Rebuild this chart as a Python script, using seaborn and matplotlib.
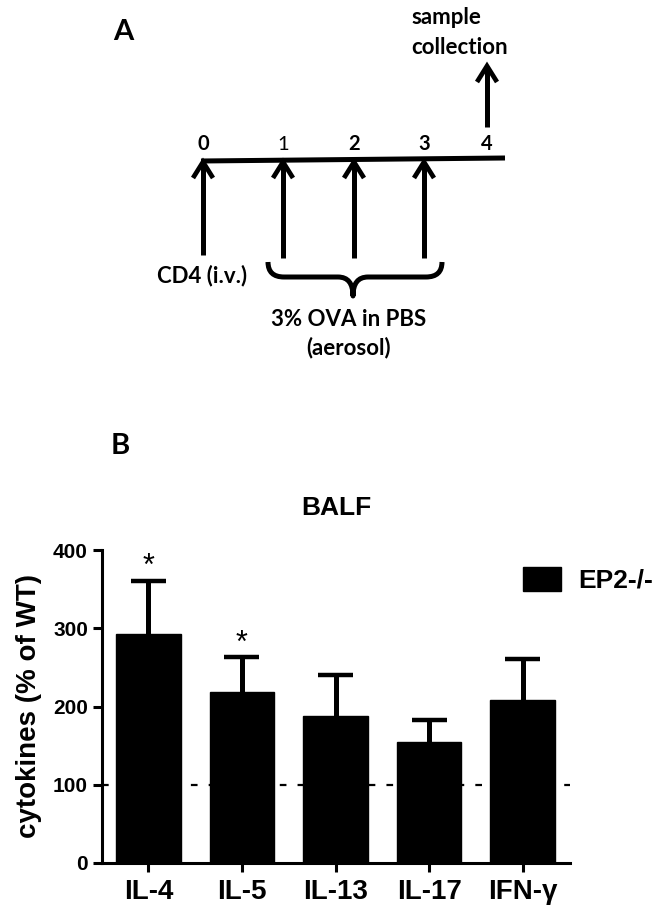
import numpy as np
import pandas as pd
import matplotlib
matplotlib.use("Agg")
import matplotlib.pyplot as plt
import seaborn as sns
from matplotlib.patches import Patch, PathPatch
from matplotlib.path import Path

# ---------------- data ----------------
cytokines = ["IL-4", "IL-5", "IL-13", "IL-17", "IFN-γ"]
pct_of_wt = [292.5, 218.5, 188.0, 154.5, 208.5]
err_upper = [68.0, 44.5, 52.0, 28.2, 52.2]
star_text = ["*", "*", "", "", ""]
star_pos = [391, 293, 0, 0, 0]
yticks = [0, 100, 200, 300, 400]
wt_level = 100
legend_label = "EP2-/-"
title_text = "BALF"
ylabel_text = "cytokines (% of WT)"

days = [0, 1, 2, 3, 4]
day_bold = [True, False, True, True, True]
stim_days = [0, 1, 2, 3]

# ---------------- style ----------------
sns.set_style("ticks")
plt.rcParams["font.family"] = ["Liberation Sans", "DejaVu Sans"]
plt.rcParams["font.weight"] = "bold"
for key in ["text.color", "axes.labelcolor", "xtick.color", "ytick.color",
            "axes.edgecolor"]:
    plt.rcParams[key] = "black"

fig = plt.figure(figsize=(6.72, 9.16), dpi=100)

# ---------------- panel A (schematic, pixel coordinates) ----------------
axa = fig.add_axes([0, 0, 1, 1])
axa.set_xlim(0, 672)
axa.set_ylim(916, 0)
axa.axis("off")
axa.patch.set_visible(False)

day_x = [203, 283, 354, 424, 487]
sfont = dict(family=["Lato", "DejaVu Sans"], color="black")

# timeline
axa.plot([201, 505], [161, 158], color="black", lw=3.6, solid_capstyle="butt")

for d, bold in zip(days, day_bold):
    axa.text(day_x[d], 144, str(d), ha="center", va="center", fontsize=14.5,
             fontweight="bold" if bold else "normal", **sfont)


def up_arrow(x, y_tip, y_tail):
    axa.plot([x, x], [y_tip + 2, y_tail], color="black", lw=3.6,
             solid_capstyle="butt")
    axa.plot([x - 10, x, x + 10], [y_tip + 16, y_tip, y_tip + 16],
             color="black", lw=3.4, solid_joinstyle="miter",
             solid_capstyle="butt")


for d in stim_days:
    up_arrow(day_x[d], 162, 255 if d == 0 else 258)
up_arrow(day_x[4], 66, 127)

# curly brace
verts = [(268, 262), (268, 277), (284, 277), (338, 277), (353, 277), (353, 296),
         (353, 277), (368, 277), (426, 277), (442, 277), (442, 262)]
codes = [Path.MOVETO, Path.CURVE3, Path.CURVE3, Path.LINETO, Path.CURVE3,
         Path.CURVE3, Path.CURVE3, Path.CURVE3, Path.LINETO, Path.CURVE3,
         Path.CURVE3]
axa.add_patch(PathPatch(Path(verts, codes), fill=False, lw=3.6,
                        edgecolor="black", joinstyle="round"))

axa.text(202, 276, "CD4 (i.v.)", ha="center", va="center", fontsize=16,
         fontweight="bold", **sfont)
axa.text(349, 320, "3% OVA in PBS", ha="center", va="center", fontsize=16,
         fontweight="bold", **sfont)
axa.text(349, 348, "(aerosol)", ha="center", va="center", fontsize=16,
         fontweight="bold", **sfont)
axa.text(411, 24, "sample", ha="left", va="baseline", fontsize=16,
         fontweight="bold", **sfont)
axa.text(411, 54, "collection", ha="left", va="baseline", fontsize=16,
         fontweight="bold", **sfont)

axa.text(123, 32, "A", ha="center", va="center", fontsize=21,
         fontweight="bold", **sfont)
axa.text(120, 446, "B", ha="center", va="center", fontsize=21,
         fontweight="bold", **sfont)

# ---------------- panel B (bar chart) ----------------
ax = fig.add_axes([102 / 672, 1 - 863 / 916, 468 / 672, 313 / 916])
df = pd.DataFrame({"cytokine": cytokines, "value": pct_of_wt})

ax.axhline(wt_level, color="black", lw=1.6, ls=(0, (3, 5)), zorder=0)
sns.barplot(data=df, x="cytokine", y="value", color="black", saturation=1,
            width=0.69, edgecolor="black", errorbar=None, ax=ax, zorder=2)

# upper-only error bars (stem + cap)
xpos = np.arange(len(cytokines))
tops = np.array(pct_of_wt) + np.array(err_upper)
ax.vlines(xpos, pct_of_wt, tops, color="black", lw=3.6, zorder=1)
ax.hlines(tops, xpos - 0.187, xpos + 0.187, color="black", lw=3.2, zorder=1)

for i, (s, v) in enumerate(zip(star_text, star_pos)):
    if s:
        ax.annotate(s, xy=(i, v), xytext=(0, -13), textcoords="offset points",
                    ha="center", va="baseline", fontsize=22,
                    fontweight="normal", color="black")

ax.set_xlim(-0.495, 4.505)
ax.set_ylim(0, 400)
ax.set_yticks(yticks)
ax.set_yticklabels([str(t) for t in yticks], fontsize=15, fontweight="bold")
ax.tick_params(axis="x", labelsize=20, length=6.5, width=2.2, pad=5,
               colors="black")
ax.tick_params(axis="y", length=6.5, width=2.2, pad=3.6, colors="black")
for lab in ax.get_xticklabels():
    lab.set_fontweight("bold")
ax.set_xlabel("")
ax.set_ylabel(ylabel_text, fontsize=20, fontweight="bold", color="black")
ax.yaxis.set_label_coords((42 - 102) / 468, 0.5)
sns.despine(ax=ax)
for sp in ["left", "bottom"]:
    ax.spines[sp].set_linewidth(2.2)
    ax.spines[sp].set_color("black")

ax.set_title(title_text, fontsize=19, fontweight="bold", pad=25, color="black")

leg = ax.legend(handles=[Patch(facecolor="black", edgecolor="black",
                               label=legend_label)],
                loc="center left", bbox_to_anchor=(523 / 672, 1 - 580 / 916),
                bbox_transform=fig.transFigure, frameon=False, borderpad=0,
                borderaxespad=0, handlelength=1.44, handleheight=1.0,
                handletextpad=0.65, prop={"weight": "bold", "size": 19})
for t in leg.get_texts():
    t.set_color("black")

fig.savefig("out.png", dpi=100)
